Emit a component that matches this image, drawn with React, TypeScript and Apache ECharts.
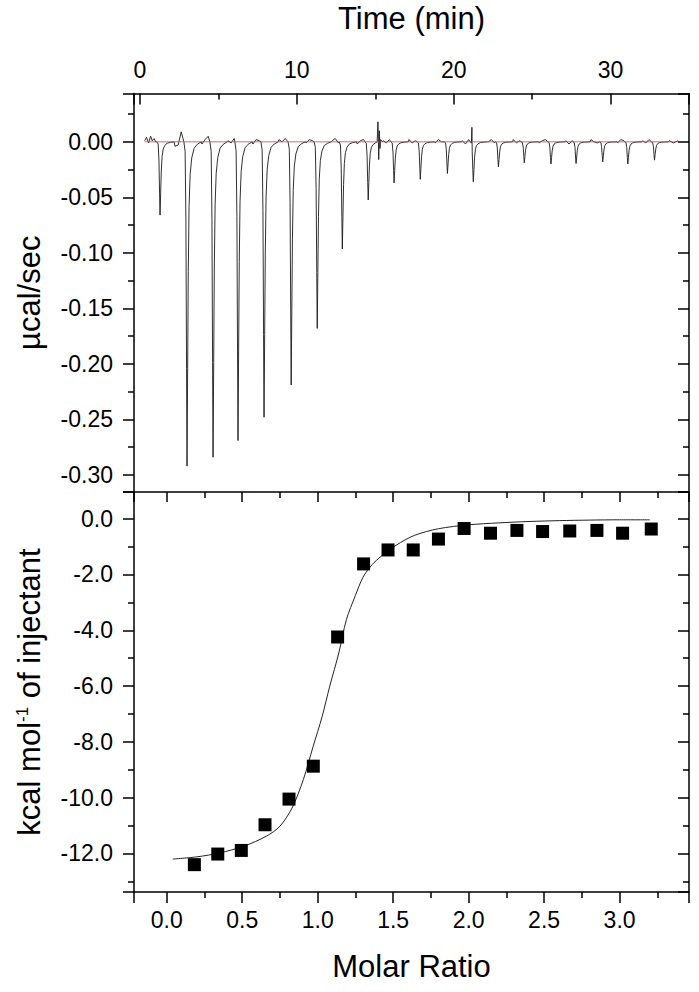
import React, { useEffect, useRef } from 'react';
import * as echarts from 'echarts';

// ---------- Top panel: raw thermogram ----------
const peakTime = [1.28, 3.0, 4.66, 6.25, 7.91, 9.64, 11.3, 12.9, 14.55, 16.2, 17.87, 19.6, 21.25, 22.85, 24.5, 26.2, 27.8, 29.5, 31.1, 32.8];
const peakDepth = [-0.066, -0.292, -0.284, -0.269, -0.248, -0.219, -0.168, -0.0965, -0.0524, -0.037, -0.0338, -0.0285, -0.036, -0.0225, -0.0189, -0.02, -0.0195, -0.018, -0.02, -0.0165];
// shape of one injection peak (minutes from tip, fraction of depth)
const peakShapeDt = [-0.2, -0.12, -0.07, -0.03, 0, 0.04, 0.08, 0.13, 0.2, 0.3, 0.45, 0.65, 0.9];
const peakShapeFrac = [0, 0.03, 0.25, 0.7, 1, 0.7, 0.4, 0.2, 0.1, 0.05, 0.02, 0.008, 0];
// baseline wiggles
const startNoiseT = [0.3, 0.42, 0.55, 0.68, 0.78, 0.9, 1.0];
const startNoiseV = [0.001, 0.004, -0.001, 0.005, 0.001, 0.003, 0.0];
const gapNoiseDt = [0.95, 1.15, 1.35];
const gapNoiseV = [
  -0.004, -0.003, 0.009,
  -0.002, 0.002, 0.005,
  0.001, -0.001, 0.003,
  -0.002, 0.002, 0.001,
  0.002, 0.0, 0.003,
  -0.001, 0.002, 0.001,
  0.001, 0.003, -0.001,
  -0.002, 0.001, 0.002,
  0.001, -0.001, 0.002,
  0.002, -0.001, 0.001,
  -0.001, 0.002, 0.0,
  0.001, -0.002, 0.002,
  0.0, 0.002, -0.001,
  0.002, -0.001, 0.001,
  -0.001, 0.001, 0.002,
  0.001, -0.002, 0.001,
  0.002, 0.0, -0.001,
  -0.001, 0.002, 0.001,
  0.001, -0.001, 0.002,
];
const endNoiseT = [33.75, 34.0, 34.3];
const endNoiseV = [0.001, -0.001, 0.001];
const spikeT = [15.12, 15.17, 15.22, 15.26, 15.3, 15.34, 21.16];
const spikeV = [0.0, 0.018, -0.016, 0.01, -0.006, 0.002, 0.013];
const baselineT = [0.3, 34.3];
const baselineV = [0, 0];

// ---------- Bottom panel: integrated heats ----------
const molarRatio = [0.183, 0.338, 0.494, 0.651, 0.81, 0.971, 1.132, 1.304, 1.466, 1.633, 1.8, 1.97, 2.145, 2.32, 2.49, 2.67, 2.85, 3.02, 3.21];
const heat = [-12.4, -12.02, -11.89, -10.97, -10.05, -8.87, -4.24, -1.62, -1.12, -1.12, -0.73, -0.35, -0.52, -0.42, -0.46, -0.44, -0.42, -0.52, -0.37];
const fitX = [0.04, 0.2, 0.35, 0.51, 0.66, 0.75, 0.83, 0.905, 0.97, 1.03, 1.08, 1.14, 1.19, 1.25, 1.3, 1.36, 1.42, 1.52, 1.64, 1.8, 2.0, 2.2, 2.4, 2.6, 2.8, 3.0, 3.2];
const fitY = [-12.2, -12.12, -11.98, -11.74, -11.38, -11.02, -10.37, -9.35, -8.16, -7.08, -6.0, -4.81, -3.62, -2.75, -2.1, -1.65, -1.35, -0.95, -0.6, -0.36, -0.22, -0.15, -0.1, -0.07, -0.05, -0.04, -0.04];

const FONT = 'Liberation Sans, Arial, sans-serif';

function buildTrace(): [number, number][] {
  const pts: [number, number][] = [];
  startNoiseT.forEach((t, i) => pts.push([t, startNoiseV[i]]));
  peakTime.forEach((tp, i) => {
    peakShapeDt.forEach((dt, j) => pts.push([tp + dt, peakDepth[i] * peakShapeFrac[j]]));
    if (i < peakTime.length - 1) {
      gapNoiseDt.forEach((dt, j) => pts.push([tp + dt, gapNoiseV[i * 3 + j]]));
    }
  });
  endNoiseT.forEach((t, i) => pts.push([t, endNoiseV[i]]));
  spikeT.forEach((t, i) => pts.push([t, spikeV[i]]));
  pts.sort((a, b) => a[0] - b[0]);
  return pts;
}

const isMult = (v: number, step: number) => Math.abs(v / step - Math.round(v / step)) < 1e-6;

export default function App() {
  const ref = useRef<HTMLDivElement>(null);
  useEffect(() => {
    if (!ref.current) return;
    const chart = echarts.init(ref.current, undefined, { renderer: 'svg' });
    const line = { show: true, onZero: false, lineStyle: { color: '#000', width: 1.5 } };
    const label = { fontFamily: FONT, fontSize: 23, color: '#000' };
    const tickOut = { show: true, inside: false, length: 11, lineStyle: { color: '#000', width: 1.5 } };
    const tickIn = { show: true, inside: true, length: 11, lineStyle: { color: '#000', width: 1.5 } };
    const minor = { show: true, splitNumber: 2, length: 6, lineStyle: { color: '#000', width: 1.5 } };
    const nameStyle = { fontFamily: FONT, fontSize: 31, color: '#000' };

    const tMin = -0.38, tMax = 35.0;
    const yTopMin = -0.3153, yTopMax = 0.0435;
    const mMin = -0.217, mMax = 3.46;
    const hMin = -13.38, hMax = 0.957;

    chart.setOption({
      animation: false,
      backgroundColor: '#fff',
      grid: [
        { left: 134, top: 93.5, width: 555, height: 398.5 },
        { left: 134, top: 492, width: 555, height: 400 },
      ],
      xAxis: [
        {
          type: 'value', gridIndex: 0, position: 'top', min: tMin, max: tMax, splitNumber: 4,
          axisLine: line, axisTick: tickIn, minorTick: minor, splitLine: { show: false },
          axisLabel: { ...label, margin: 12, formatter: (v: number) => (isMult(v, 10) ? String(Math.round(v)) : '') },
          name: 'Time (min)', nameLocation: 'middle', nameGap: 60, nameTextStyle: nameStyle,
        },
        {
          type: 'value', gridIndex: 1, position: 'bottom', min: mMin, max: mMax, splitNumber: 7,
          axisLine: line, axisTick: tickOut, minorTick: minor, splitLine: { show: false },
          axisLabel: { ...label, margin: 16, formatter: (v: number) => (isMult(v, 0.5) ? v.toFixed(1) : '') },
          name: 'Molar Ratio', nameLocation: 'middle', nameGap: 59, nameTextStyle: nameStyle,
        },
        {
          type: 'value', gridIndex: 1, position: 'top', min: mMin, max: mMax, splitNumber: 7,
          axisLine: line, axisTick: { ...tickIn, length: 10 }, minorTick: minor, splitLine: { show: false },
          axisLabel: { show: false },
        },
      ],
      yAxis: [
        {
          type: 'value', gridIndex: 0, position: 'left', min: yTopMin, max: yTopMax, splitNumber: 7,
          axisLine: line, axisTick: tickOut, minorTick: minor, splitLine: { show: false },
          axisLabel: { ...label, margin: 21, formatter: (v: number) => (isMult(v, 0.05) ? v.toFixed(2) : '') },
          name: 'µcal/sec', nameLocation: 'middle', nameRotate: 90, nameGap: 89, nameTextStyle: nameStyle,
        },
        {
          type: 'value', gridIndex: 0, position: 'right', min: yTopMin, max: yTopMax, splitNumber: 7,
          axisLine: line, axisTick: tickIn, minorTick: minor, splitLine: { show: false },
          axisLabel: { show: false },
        },
        {
          type: 'value', gridIndex: 1, position: 'left', min: hMin, max: hMax, splitNumber: 7,
          axisLine: line, axisTick: tickOut, minorTick: minor, splitLine: { show: false },
          axisLabel: { ...label, margin: 21, formatter: (v: number) => (isMult(v, 2) ? v.toFixed(1) : '') },
          name: 'kcal mol{sup|-1} of injectant', nameLocation: 'middle', nameRotate: 90, nameGap: 89,
          nameTextStyle: {
            ...nameStyle,
            rich: { sup: { fontFamily: FONT, fontSize: 17, color: '#000', verticalAlign: 'top', lineHeight: 31 } },
          },
        },
        {
          type: 'value', gridIndex: 1, position: 'right', min: hMin, max: hMax, splitNumber: 7,
          axisLine: line, axisTick: tickIn, minorTick: minor, splitLine: { show: false },
          axisLabel: { show: false },
        },
      ],
      series: [
        {
          type: 'line', xAxisIndex: 0, yAxisIndex: 0, data: buildTrace(), showSymbol: false, symbol: 'none',
          lineStyle: { color: '#1a1a1a', width: 0.9 }, z: 2,
        },
        {
          type: 'line', xAxisIndex: 0, yAxisIndex: 0, data: baselineT.map((t, i) => [t, baselineV[i]]),
          showSymbol: false, symbol: 'none', lineStyle: { color: '#c24a5a', width: 0.8 }, z: 3,
        },
        {
          type: 'line', xAxisIndex: 1, yAxisIndex: 2, data: fitX.map((x, i) => [x, fitY[i]]),
          showSymbol: false, symbol: 'none', smooth: 0.3, lineStyle: { color: '#222', width: 1 }, z: 2,
        },
        {
          type: 'scatter', xAxisIndex: 1, yAxisIndex: 2, data: molarRatio.map((x, i) => [x, heat[i]]),
          symbol: 'rect', symbolSize: 13, itemStyle: { color: '#000', opacity: 1 }, z: 3,
        },
      ],
    });
    return () => chart.dispose();
  }, []);
  return (
    <div
      ref={ref}
      style={{ position: 'absolute', left: 0, top: 0, width: 699, height: 992, background: '#fff' }}
    />
  );
}
